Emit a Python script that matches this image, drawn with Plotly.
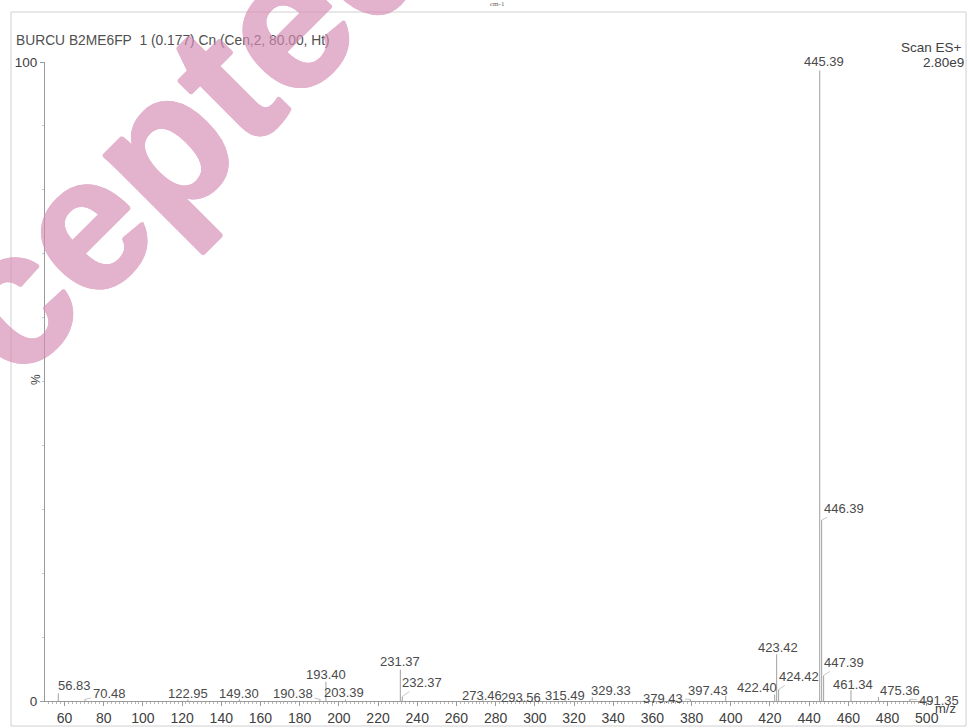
import plotly.graph_objects as go

# ---- data ----
mz = [56.83, 70.48, 122.95, 149.30, 190.38, 193.40, 203.39, 231.37, 232.37,
      273.46, 293.56, 315.49, 329.33, 379.43, 397.43, 422.40, 423.42, 424.42,
      445.39, 446.39, 447.39, 461.34, 475.36, 491.35]
intensity = [1.2, 0.25, 0.25, 0.25, 0.25, 3.0, 0.25, 4.9, 0.7,
             0.25, 0.25, 0.25, 0.6, 0.25, 0.8, 1.0, 7.3, 1.8,
             100.0, 28.3, 4.0, 1.7, 0.6, 0.25]
peak_labels = [f"{m:.2f}" for m in mz]

x_tick_vals = list(range(60, 501, 20))
y_tick_vals = [0, 100]
y_tick_text = ["0", "100"]

title_text = "BURCU B2ME6FP\u00a0 1 (0.177) Cn (Cen,2, 80.00, Ht)"
scan_text = "Scan ES+"
tic_text = "2.80e9"

# ---- label placement (pixel offsets of label centre from peak top) ----
label_dx = [16, 24, 0, 0, -27, 0, -1, 0, 20,
            -1, -1, 0, 19, -27, -18, -18, 1, 20,
            4, 22, 20, 2, 22, 29]
label_dy = [-8, -6, -6, -6, -6, -7, -7, -8, -14,
            -4, -2, -4, -7, -1, -5, -7, -7, -13,
            -1, -12, -13, -6, -7, 1]

W, H = 970, 728
L, R, T, B = 45, 37, 62, 27
FONT = "Arial, 'Liberation Sans', sans-serif"
PINK = "rgb(214,140,180)"


def px(x):
    return (x - L) / (W - L - R)


def py(y):
    return (H - B - y) / (H - T - B)


xs, ys = [], []
for m, v in zip(mz, intensity):
    xs += [m, m, None]
    ys += [0, v, None]

fig = go.Figure(go.Scatter(x=xs, y=ys, mode="lines",
                           line=dict(color="#a0a0a0", width=1),
                           hoverinfo="skip", showlegend=False))

annotations = []
for m, v, t, dx, dy in zip(mz, intensity, peak_labels, label_dx, label_dy):
    a = dict(x=m, y=v, xref="x", yref="y", text=t, showarrow=True,
             arrowhead=0, arrowwidth=0.8, arrowcolor="#b8b8b8",
             ax=dx, ay=dy, standoff=0,
             font=dict(family=FONT, size=13, color="#4a4a4a"))
    if v >= 99:
        a["bgcolor"] = "white"
    annotations.append(a)

shadow = ", ".join(f"{sx}px {sy}px 0 {PINK}" for sx, sy in
                   [(1.5, 0), (-1.5, 0), (0, 1.5), (0, -1.5),
                    (1, 1), (-1, -1), (1, -1), (-1, 1)])

annotations += [
    dict(x=px(14), y=py(41), xref="paper", yref="paper", text=title_text,
         showarrow=False, xanchor="left", yanchor="middle",
         font=dict(family=FONT, size=13.8, color="#505050")),
    dict(x=px(964), y=py(47), xref="paper", yref="paper", text=scan_text,
         showarrow=False, xanchor="right", yanchor="middle",
         font=dict(family=FONT, size=13.5, color="#404040")),
    dict(x=px(966), y=py(62), xref="paper", yref="paper", text=tic_text,
         showarrow=False, xanchor="right", yanchor="middle",
         font=dict(family=FONT, size=13.5, color="#404040")),
    dict(x=px(946), y=py(708), xref="paper", yref="paper", text="m/z",
         showarrow=False, xanchor="center", yanchor="middle",
         font=dict(family=FONT, size=13, color="#404040")),
    dict(x=px(36), y=py(380), xref="paper", yref="paper", text="%",
         showarrow=False, textangle=-90, xanchor="center", yanchor="middle",
         font=dict(family=FONT, size=12, color="#404040")),
    dict(x=px(498), y=py(4), xref="paper", yref="paper", text="cm-1",
         showarrow=False, xanchor="center", yanchor="middle",
         font=dict(family="'Liberation Serif', serif", size=7, color="#606060")),
    # pink watermark
    dict(x=px(100), y=py(208), xref="paper", yref="paper", text="<b>Accepted</b>",
         showarrow=False, textangle=-45, xanchor="center", yanchor="middle",
         opacity=0.66,
         font=dict(family=FONT, size=190, color=PINK, shadow=shadow)),
]

shapes = [
    dict(type="rect", xref="paper", yref="paper",
         x0=px(11), x1=px(966), y0=py(726), y1=py(12),
         line=dict(color="#d0d0d0", width=1), layer="below"),
]

fig.update_layout(
    template="none",
    width=W, height=H, autosize=False,
    margin=dict(l=L, r=R, t=T, b=B, pad=0, autoexpand=False),
    paper_bgcolor="white", plot_bgcolor="white",
    font=dict(family=FONT, size=14, color="#404040"),
    xaxis=dict(range=[50.05, 503.2], showgrid=False, zeroline=False,
               automargin=False,
               showline=True, linecolor="#9a9a9a", linewidth=1,
               tickmode="array", tickvals=x_tick_vals,
               ticks="outside", ticklen=4, tickcolor="#9a9a9a", tickwidth=1,
               tickfont=dict(family=FONT, size=14, color="#404040"),
               minor=dict(dtick=2, tick0=0, ticks="outside", ticklen=2,
                          tickcolor="#b8b8b8", tickwidth=1)),
    yaxis=dict(range=[0, 100], showgrid=False, zeroline=False,
               automargin=False,
               showline=True, linecolor="#9a9a9a", linewidth=1,
               tickmode="array", tickvals=y_tick_vals, ticktext=y_tick_text,
               ticks="outside", ticklen=4, tickcolor="#9a9a9a",
               tickfont=dict(family=FONT, size=13.5, color="#404040"),
               minor=dict(dtick=10, tick0=0, ticks="outside", ticklen=2,
                          tickcolor="#c8c8c8")),
    annotations=annotations,
    shapes=shapes,
)

fig.write_html("out.html",
               config={"displayModeBar": False},
               post_script="document.body.style.margin='0';"
                           "document.body.style.overflow='hidden';")
